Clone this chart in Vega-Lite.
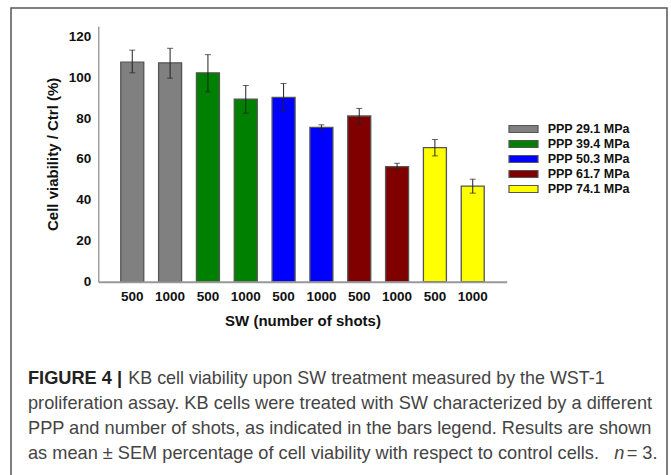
{
  "$schema": "https://vega.github.io/schema/vega-lite/v6.json",
  "width": 656,
  "height": 475,
  "autosize": {"type": "none"},
  "padding": {"left": 11, "top": 8, "right": 4, "bottom": 0},
  "background": "white",
  "config": {"view": {"stroke": "#555", "strokeWidth": 1.5}, "font": "Liberation Sans"},
  "datasets": {
    "bars": [
      {"key": "29.1|500", "ppp": "PPP 29.1 MPa", "mean": 107.3, "lo": 102.1, "hi": 113.2},
      {"key": "29.1|1000", "ppp": "PPP 29.1 MPa", "mean": 107.0, "lo": 99.5, "hi": 114.1},
      {"key": "39.4|500", "ppp": "PPP 39.4 MPa", "mean": 102.1, "lo": 92.8, "hi": 111.0},
      {"key": "39.4|1000", "ppp": "PPP 39.4 MPa", "mean": 89.3, "lo": 82.4, "hi": 95.9},
      {"key": "50.3|500", "ppp": "PPP 50.3 MPa", "mean": 90.1, "lo": 83.3, "hi": 96.9},
      {"key": "50.3|1000", "ppp": "PPP 50.3 MPa", "mean": 75.4, "lo": 74.1, "hi": 76.7},
      {"key": "61.7|500", "ppp": "PPP 61.7 MPa", "mean": 81.0, "lo": 77.0, "hi": 84.7},
      {"key": "61.7|1000", "ppp": "PPP 61.7 MPa", "mean": 56.3, "lo": 54.6, "hi": 57.9},
      {"key": "74.1|500", "ppp": "PPP 74.1 MPa", "mean": 65.5, "lo": 61.5, "hi": 69.5},
      {"key": "74.1|1000", "ppp": "PPP 74.1 MPa", "mean": 46.7, "lo": 43.3, "hi": 50.1}
    ],
    "caption": [
      {"line": 1, "part": "bold", "text": "FIGURE 4 |"},
      {"line": 1, "part": "l1", "text": "KB cell viability upon SW treatment measured by the WST-1"},
      {"line": 2, "part": "main", "text": "proliferation assay. KB cells were treated with SW characterized by a different"},
      {"line": 3, "part": "main", "text": "PPP and number of shots, as indicated in the bars legend. Results are shown"},
      {"line": 4, "part": "main", "text": "as mean ± SEM percentage of cell viability with respect to control cells."},
      {"line": 4, "part": "ital", "text": "n"},
      {"line": 4, "part": "end", "text": "= 3."}
    ]
  },
  "layer": [
    {
      "data": {"name": "bars"},
      "encoding": {
        "x": {
          "field": "key", "type": "nominal", "sort": null,
          "scale": {"range": [87.3, 495.7], "paddingInner": 0.392, "paddingOuter": 0.594},
          "axis": {
            "orient": "bottom", "offset": -201.3, "labelExpr": "split(datum.value, '|')[1]",
            "labelAngle": 0, "ticks": false, "tickSize": 0, "grid": false,
            "domainColor": "#999", "domainWidth": 2,
            "labelFont": "Liberation Sans", "labelFontWeight": "bold", "labelFontSize": 13.5, "labelColor": "#111", "labelPadding": 8,
            "title": "SW (number of shots)", "titleFont": "Liberation Sans", "titleFontWeight": "bold", "titleFontSize": 15, "titleColor": "#111", "titlePadding": 10,
            "zindex": 1
          }
        }
      },
      "layer": [
        {
          "mark": {"type": "bar", "stroke": "#555", "strokeWidth": 1.3},
          "encoding": {
            "y": {
              "field": "mean", "type": "quantitative", "title": "Cell viability / Ctrl (%)",
              "scale": {"domain": [0, 125], "range": [273.7, 18], "nice": false},
              "axis": {
                "orient": "left", "offset": -87.3, "values": [0, 20, 40, 60, 80, 100, 120],
                "ticks": false, "tickSize": 0, "grid": false,
                "domainColor": "#888", "domainWidth": 1.2,
                "labelFont": "Liberation Sans", "labelFontWeight": "bold", "labelFontSize": 13.5, "labelColor": "#111", "labelPadding": 7.5,
                "titleFont": "Liberation Sans", "titleFontWeight": "bold", "titleFontSize": 15, "titleColor": "#111", "titlePadding": 8
              }
            },
            "color": {
              "field": "ppp", "type": "nominal", "sort": null,
              "scale": {
                "domain": ["PPP 29.1 MPa", "PPP 39.4 MPa", "PPP 50.3 MPa", "PPP 61.7 MPa", "PPP 74.1 MPa"],
                "range": ["#808080", "#008000", "#0000ff", "#800000", "#ffff00"]
              },
              "legend": {
                "orient": "none", "legendX": 504.5, "legendY": 113, "title": null,
                "symbolType": "M-2.0714,-0.5H2.0714V0.5H-2.0714Z", "symbolSize": 196,
                "symbolStrokeColor": "#555", "symbolStrokeWidth": 1.2, "symbolOpacity": 1,
                "labelFont": "Liberation Sans", "labelFontWeight": "bold", "labelFontSize": 12.5, "labelColor": "#111",
                "labelOffset": 16.2, "rowPadding": 0, "padding": 0
              }
            }
          }
        },
        {
          "mark": {"type": "rule", "color": "#222", "strokeWidth": 1},
          "encoding": {
            "y": {"field": "lo", "type": "quantitative", "title": "Cell viability / Ctrl (%)"},
            "y2": {"field": "hi"}
          }
        },
        {
          "mark": {"type": "tick", "color": "#222", "thickness": 1, "size": 6},
          "encoding": {"y": {"field": "lo", "type": "quantitative", "title": "Cell viability / Ctrl (%)"}}
        },
        {
          "mark": {"type": "tick", "color": "#222", "thickness": 1, "size": 6},
          "encoding": {"y": {"field": "hi", "type": "quantitative", "title": "Cell viability / Ctrl (%)"}}
        }
      ]
    },
    {
      "data": {"name": "caption"},
      "encoding": {
        "x": {"datum": 0, "type": "quantitative", "scale": {"domain": [0, 1], "range": [17, 656], "nice": false}, "axis": null},
        "y": {"field": "line", "type": "quantitative", "scale": {"domain": [1, 4], "range": [376.3, 450.7], "nice": false, "zero": false}, "axis": null},
        "text": {"field": "text"}
      },
      "layer": [
        {
          "transform": [{"filter": "datum.part === 'bold'"}],
          "mark": {"type": "text", "align": "left", "baseline": "alphabetic", "font": "Liberation Sans", "fontWeight": "bold", "fontSize": 18.2, "color": "#222"}
        },
        {
          "transform": [{"filter": "datum.part === 'l1'"}],
          "mark": {"type": "text", "align": "left", "baseline": "alphabetic", "font": "Liberation Sans", "fontSize": 17.9, "color": "#444", "dx": 100.3}
        },
        {
          "transform": [{"filter": "datum.part === 'main'"}],
          "mark": {"type": "text", "align": "left", "baseline": "alphabetic", "font": "Liberation Sans", "fontSize": 18.2, "color": "#444"}
        },
        {
          "transform": [{"filter": "datum.part === 'ital'"}],
          "mark": {"type": "text", "align": "left", "baseline": "alphabetic", "font": "Liberation Sans", "fontStyle": "italic", "fontSize": 18.2, "color": "#444", "dx": 586.3}
        },
        {
          "transform": [{"filter": "datum.part === 'end'"}],
          "mark": {"type": "text", "align": "left", "baseline": "alphabetic", "font": "Liberation Sans", "fontSize": 18.2, "color": "#444", "dx": 598.7}
        }
      ]
    }
  ],
  "resolve": {"scale": {"x": "independent", "y": "independent"}}
}
